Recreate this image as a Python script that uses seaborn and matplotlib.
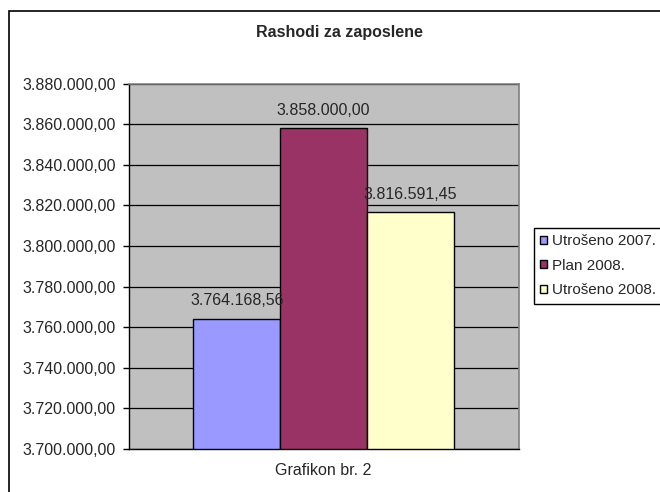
import pandas as pd
import matplotlib
matplotlib.use("Agg")
import matplotlib.pyplot as plt
from matplotlib.patches import Rectangle
from matplotlib.ticker import FuncFormatter
import seaborn as sns

# podaci
serije = ['Utrošeno 2007.', 'Plan 2008.', 'Utrošeno 2008.']
iznosi = [3764168.56, 3858000.00, 3816591.45]
boje = ['#9999FF', '#993366', '#FFFFCC']
kategorija = 'Grafikon br. 2'

df = pd.DataFrame({'grafikon': [kategorija] * len(serije), 'serija': serije, 'iznos': iznosi})


def hr_format(v, pos=None):
    s = f"{v:,.2f}"
    return s.replace(',', 'X').replace('.', ',').replace('X', '.')


sns.set_style('white')
plt.rcParams['font.family'] = ['Liberation Sans', 'DejaVu Sans']

fig = plt.figure(figsize=(6.6, 4.92), dpi=100)
ax = fig.add_axes([128.5 / 660, 1 - 449 / 492, 390 / 660, (449 - 83.5) / 492])

sns.barplot(data=df, x='grafikon', y='iznos', hue='serija', palette=boje,
            edgecolor='black', linewidth=1, width=0.667, gap=0, saturation=1,
            ax=ax, legend=True)

ax.set_facecolor('#C0C0C0')
ax.set_xlim(-0.5, 0.5)
ax.set_ylim(3700000, 3880000)
ax.set_yticks([3700000 + 20000 * i for i in range(10)])
ax.yaxis.set_major_formatter(FuncFormatter(hr_format))
ax.yaxis.grid(True, color='black', linewidth=0.9)
ax.set_axisbelow(True)
ax.set_xlabel('')
ax.set_ylabel('')
ax.tick_params(axis='y', direction='out', length=4, width=1, color='black',
               labelsize=11.5, pad=5, left=True)
ax.tick_params(axis='x', length=0, labelsize=11.5, pad=10)

for side in ['top', 'right']:
    ax.spines[side].set_color('#808080')
    ax.spines[side].set_linewidth(1.2)
for side in ['left', 'bottom']:
    ax.spines[side].set_color('black')
    ax.spines[side].set_linewidth(1)

# oznake vrijednosti iznad stupaca
for bar, v in zip(ax.patches, iznosi):
    ax.annotate(hr_format(v), (bar.get_x() + bar.get_width() / 2, v),
                xytext=(0, 13), textcoords='offset points',
                ha='center', va='center', fontsize=11.5, clip_on=False)

ax.legend(loc='upper left', bbox_to_anchor=(534 / 660, 1 - 228 / 492),
          bbox_transform=fig.transFigure, fontsize=11, frameon=True,
          fancybox=False, edgecolor='black', framealpha=1,
          handlelength=0.45, handleheight=0.45, handletextpad=0.3,
          labelspacing=0.7, borderpad=0.4, borderaxespad=0)
ax.get_legend().get_frame().set_linewidth(1)

fig.text(339 / 660, 1 - 32 / 492, 'Rashodi za zaposlene', ha='center', va='center',
         fontsize=11.5, fontweight='bold')

# okvir grafikona
fig.add_artist(Rectangle((9 / 660, -0.05), 1.0, 1 - 11 / 492 + 0.05,
                         transform=fig.transFigure, fill=False,
                         edgecolor='black', linewidth=1.2))

fig.savefig('out.png', dpi=100)
